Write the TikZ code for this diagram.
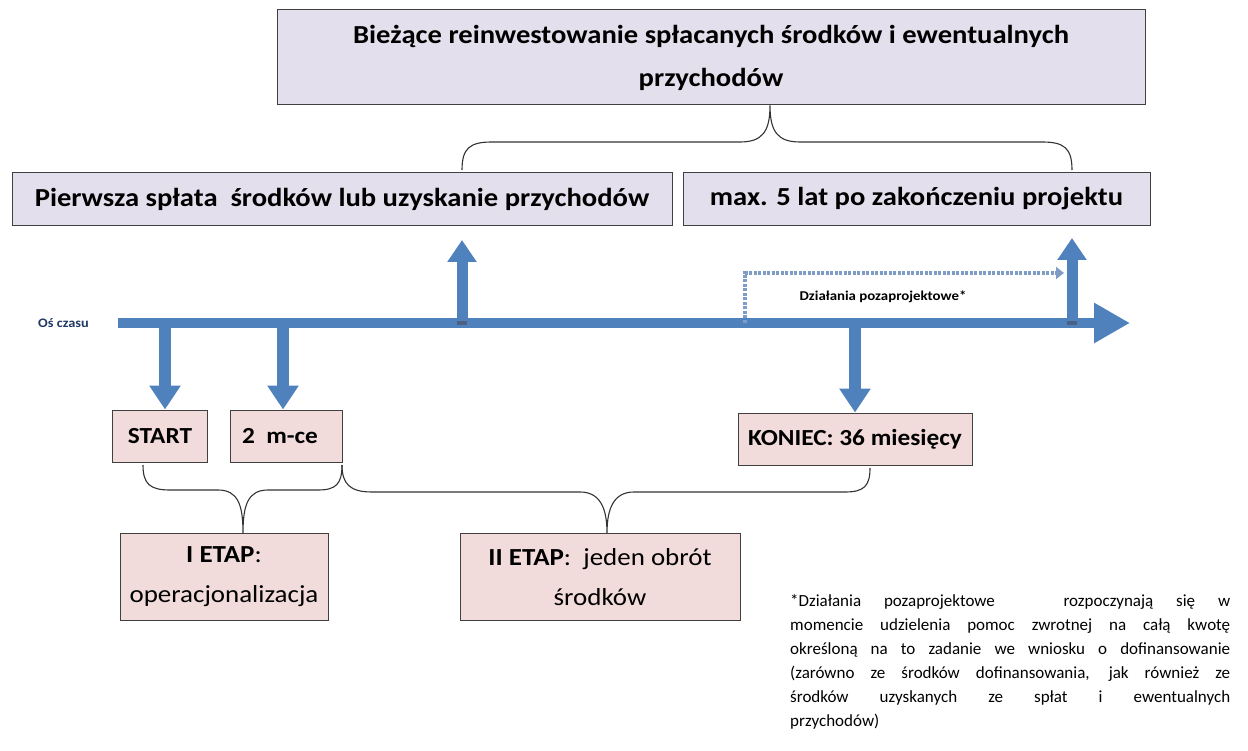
\documentclass[tikz,border=0pt]{standalone}
\usepackage{fontspec}
\setmainfont{Carlito}
\newfontfamily\wide[FakeStretch=1.1]{Carlito}
\usetikzlibrary{arrows.meta}
\definecolor{lav}{HTML}{E4DFEC}
\definecolor{pinkb}{HTML}{F2DCDB}
\definecolor{arrb}{HTML}{4F81BD}
\definecolor{dotb}{HTML}{7F9CC6}
\definecolor{navy}{HTML}{1F3864}
\begin{document}
\begin{tikzpicture}[x=1pt,y=-1pt,
  lavbox/.style={draw=black!75,line width=1pt,fill=lav,inner sep=0pt,align=center,font=\wide\fontsize{26}{43}\selectfont\bfseries},
  pinkbox/.style={draw=black!75,line width=1pt,fill=pinkb,inner sep=0pt,align=center},
  blockup/.style={arrb,line width=11pt,-{Triangle[width=28pt,length=22pt]}},
  blockdown/.style={arrb,line width=12pt,-{Triangle[width=30pt,length=24pt]}},
  bracestyle/.style={draw=black!80,line width=1.1pt},
  ]
\useasboundingbox (0,0) rectangle (1248,751);
% top boxes
\node[lavbox,minimum width=868pt,minimum height=95pt] (top) at (711,57.5)
  {Bieżące reinwestowanie spłacanych środków i ewentualnych\\przychodów};
\node[lavbox,minimum width=660pt,minimum height=53pt] (first) at (342,199)
  {Pierwsza spłata\ \ środków lub uzyskanie przychodów};
\node[lavbox,minimum width=467pt,minimum height=53pt] (max) at (916.5,199)
  {max. 5 lat po zakończeniu projektu};
% timeline
\coordinate (tl0) at (118,323);
\coordinate (tl1) at (1130,323);
\draw[arrb,line width=10pt,-{Triangle[width=38pt,length=36pt]}] (tl0) -- (tl1);
\node[font=\wide\fontsize{13}{15}\selectfont\bfseries,text=navy,anchor=west,inner sep=0pt] (os) at (38,323) {Oś czasu};
% dotted path
\coordinate (d0) at (745,323);
\coordinate (d1) at (745,273);
\coordinate (d2) at (1064,273);
\draw[dotb,line width=4pt,dash pattern=on 3pt off 1.5pt,-{Triangle[width=12pt,length=8pt]}] (d0) -- (d1) -- (d2);
\node[font=\wide\fontsize{13.5}{15}\selectfont\bfseries,inner sep=0pt] (dz) at (883,297) {Działania pozaprojektowe*};
% lower boxes
\node[pinkbox,minimum width=95pt,minimum height=52pt,font=\wide\fontsize{23}{26}\selectfont\bfseries] (start) at (160,436) {START};
\node[pinkbox,minimum width=112pt,minimum height=52pt,font=\wide\fontsize{23}{26}\selectfont\bfseries] (two) at (286,436) {2\ \ m-ce\hspace*{12pt}};
\node[pinkbox,minimum width=234pt,minimum height=52pt,font=\wide\fontsize{23}{26}\selectfont\bfseries] (kon) at (855,439) {KONIEC: 36 miesięcy};
\node[pinkbox,minimum width=208pt,minimum height=87pt,font=\wide\fontsize{24.5}{40}\selectfont] (e1) at (224,577) {\textbf{I ETAP}:\\operacjonalizacja};
\node[pinkbox,minimum width=280pt,minimum height=87pt,font=\wide\fontsize{24.5}{40}\selectfont] (e2) at (600,577) {\textbf{II ETAP}:\ \ jeden obrót\\środków};
% arrows
\coordinate (a1s) at (165,323);
\draw[blockdown] ([yshift=4pt]a1s) -- (start.north -| a1s);
\coordinate (a2s) at (283,323);
\draw[blockdown] ([yshift=4pt]a2s) -- (two.north -| a2s);
\coordinate (a3s) at (kon.north |- tl0);
\draw[blockdown] ([yshift=4pt]a3s) -- (kon.north);
\coordinate (u1s) at (462,325);
\coordinate (u1e) at (462,240);
\draw[blockup] (u1s) -- (u1e);
\coordinate (u2s) at (1072,325);
\coordinate (u2e) at (1072,238);
\draw[blockup] (u2s) -- (u2e);
\fill[navy!80] ([xshift=-5pt,yshift=0pt]u1s) rectangle ([xshift=5pt,yshift=4pt]u1s);
\fill[navy!80] ([xshift=-5pt,yshift=0pt]u2s) rectangle ([xshift=5pt,yshift=4pt]u2s);
% braces
\draw[bracestyle] (462,170) .. controls (462,148) and (470,142) .. (492,142) -- (740,142)
  .. controls (762,142) and (770,132) .. (top.south -| 770,0) .. controls (770,132) and (778,142) .. (800,142)
  -- (1042,142) .. controls (1064,142) and (1072,148) .. (1072,170);
\draw[bracestyle] (143,465) .. controls (143,484) and (150,490) .. (170,490) -- (218,490)
  .. controls (238,490) and (243,505) .. (e1.north -| 243,0) .. controls (243,505) and (248,490) .. (268,490)
  -- (318,490) .. controls (336,490) and (342,484) .. (342,465);
\draw[bracestyle] (342,465) .. controls (342,484) and (350,492) .. (372,492) -- (580,492)
  .. controls (600,492) and (607,508) .. (e2.north -| 607,0) .. controls (607,508) and (614,492) .. (634,492)
  -- (845,492) .. controls (864,492) and (870,486) .. (870,468);
% footnote
\node[anchor=north west,inner sep=0pt,align=left,font=\fontsize{17}{24}\selectfont] (note) at (790,594) {%
\makebox[440pt][s]{*Działania pozaprojektowe \ \ rozpoczynają się w}\\
\makebox[440pt][s]{momencie udzielenia pomoc zwrotnej na całą kwotę}\\
\makebox[440pt][s]{określoną na to zadanie we wniosku o dofinansowanie}\\
\makebox[440pt][s]{(zarówno ze środków dofinansowania, jak również ze}\\
\makebox[440pt][s]{środków uzyskanych ze spłat i ewentualnych}\\
przychodów)};
\end{tikzpicture}
\end{document}
